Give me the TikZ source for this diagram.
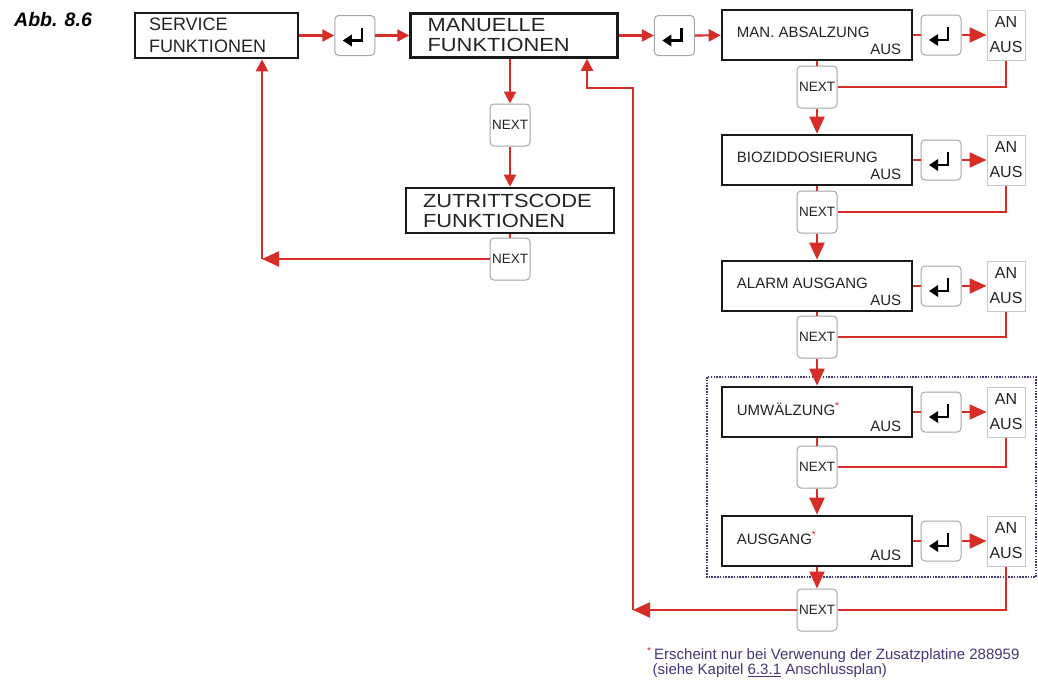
\documentclass[tikz,border=0pt]{standalone}
\usepackage{fontspec}
\setmainfont{Liberation Sans}
\usetikzlibrary{positioning,arrows.meta}

\definecolor{pfeilrot}{RGB}{214,45,38}
\definecolor{tastengrau}{RGB}{165,165,165}
\definecolor{rahmengrau}{RGB}{200,200,200}
\definecolor{notizblau}{RGB}{66,56,120}
\definecolor{schrift}{RGB}{35,35,35}

\newcommand\rotstern{\textsuperscript{\textcolor{pfeilrot}{*}}}

\tikzset{
  menu/.style={draw=black!90, line width=2.6pt, inner ysep=0pt, align=left, text=schrift},
  anzeige/.style={draw=black!90, line width=2.6pt, inner sep=0pt,
    minimum width=190pt, minimum height=50pt},
  anzeigetext/.style={inner sep=0pt, text=schrift, font=\fontsize{15}{17}\selectfont},
  taste/.style={draw=tastengrau, line width=1pt, rounded corners=4pt, inner sep=0pt,
    minimum width=40pt, minimum height=40pt,
    path picture={
      \coordinate (pc) at (path picture bounding box.center);
      \draw[black, line width=2.2pt, sharp corners]
        ([shift={(7pt,8pt)}]pc) -- ([shift={(7pt,-5pt)}]pc) -- ([shift={(-3pt,-5pt)}]pc);
      \fill[black, sharp corners] ([shift={(-12pt,-5pt)}]pc) -- ([shift={(-3pt,1pt)}]pc)
        -- ([shift={(-3pt,-11pt)}]pc) -- cycle;
    }},
  naechste/.style={draw=tastengrau, line width=1pt, rounded corners=4pt, inner sep=0pt,
    minimum width=40pt, minimum height=42pt, text=schrift, font=\fontsize{13.5}{15}\selectfont},
  anaus/.style={draw=rahmengrau, line width=1pt, inner sep=0pt, align=center,
    minimum width=38pt, minimum height=50pt, text=schrift, font=\fontsize{16}{25}\selectfont},
  linie/.style={draw=pfeilrot, line width=2.2pt},
  pfeil/.style={linie, -{Triangle[length=12pt,width=12pt]}},
  pfeilgross/.style={linie, -{Triangle[length=17pt,width=15pt]}},
}

\begin{document}
\begin{tikzpicture}[x=1pt, y=-1pt]
  \useasboundingbox (0,0) rectangle (1038,680);
  % Abbildungsnummer
  \node[anchor=base west, inner sep=0pt, font=\fontsize{19.5}{20}\selectfont\bfseries\itshape]
    (abb) at (14,27) {Abb. 8.6};
  % obere Reihe
  \node[menu, text width=135pt, inner xsep=14pt, minimum height=45pt,
    font=\fontsize{18}{22}\selectfont] (service) at (216.5,35.5) {SERVICE\\FUNKTIONEN};
  \node[taste] (taste0) [right=35pt of service] {};
  \node[menu, text width=173pt, inner xsep=17pt, minimum height=44pt,
    font=\fontsize{19}{20}\selectfont\addfontfeature{FakeStretch=1.15}]
    (manuelle) [right=34pt of taste0] {MANUELLE\\FUNKTIONEN};
  \node[taste] (tasteM) [right=35pt of manuelle] {};
  % Zweig Zutrittscode
  \node[naechste] (nextM) at (510,125) {NEXT};
  \node[menu, text width=174pt, inner xsep=17pt, minimum height=45pt,
    font=\fontsize{19}{20}\selectfont\addfontfeature{FakeStretch=1.15}]
    (zutritt) at (510,210.5) {ZUTRITTSCODE\\FUNKTIONEN};
  \node[naechste] (nextZ) at (510,259) {NEXT};
  % rechte Spalte
  \draw[notizblau, line width=1.8pt, dash pattern=on 1.5pt off 1.3pt]
    (707,377) rectangle (1036,577);
  \foreach \i/\y/\txt in {1/35/{MAN. ABSALZUNG}, 2/160/BIOZIDDOSIERUNG,
      3/286/{ALARM AUSGANG}, 4/412/{UMWÄLZUNG\rotstern}, 5/541/{AUSGANG\rotstern}} {
    \node[anzeige] (box\i) at (817,\y) {};
    \node[anzeigetext, anchor=west] (titel\i) at ([xshift=16pt,yshift=3pt]box\i.west) {\txt};
    \node[anzeigetext, anchor=base east] (aus\i) at ([xshift=-12pt,yshift=7pt]box\i.south east) {AUS};
    \node[taste] (taste\i) at (941,\y) {};
    \node[anaus] (anaus\i) at (1006,\y) {AN\\AUS};
    \draw[linie] (box\i) -- (taste\i);
    \draw[pfeilgross] (taste\i) -- (anaus\i);
  }
  \foreach \i/\y in {1/87, 2/212, 3/337, 4/467, 5/610}
    \node[naechste] (next\i) at (817,\y) {NEXT};
  % Verbindungen
  \draw[pfeil] (service) -- (taste0);
  \draw[pfeil] (taste0) -- (manuelle);
  \draw[pfeil] (manuelle) -- (tasteM);
  \draw[pfeil] (tasteM) -- (box1);
  \draw[pfeil] (manuelle.south -| nextM) -- (nextM);
  \draw[pfeil] (nextM) -- (zutritt);
  \draw[linie] (zutritt.south -| nextZ) -- (nextZ);
  \coordinate (ecke1) at (262,259);
  \draw[pfeilgross] (nextZ.west) -- (ecke1);
  \draw[pfeil] (ecke1) -- (ecke1 |- service.south);
  \foreach \i/\j in {1/2, 2/3, 3/4, 4/5} {
    \draw[linie] (box\i) -- (next\i);
    \draw[pfeilgross] (next\i) -- (box\j);
  }
  \draw[pfeilgross] (box5) -- (next5);
  \foreach \i in {1,...,5}
    \draw[linie] (anaus\i.south) |- (next\i.east);
  \coordinate (ecke2) at (633,610);
  \coordinate (ecke3) at (587,88);
  \draw[pfeilgross] (next5.west) -- (ecke2);
  \draw[pfeil] (ecke2) |- (ecke3) -- (ecke3 |- manuelle.south);
  % Fussnote
  \node[anchor=north west, inner sep=0pt, align=left, text=notizblau,
    font=\fontsize{15}{15}\selectfont] (notiz) at (654,647)
    {\llap{\rotstern\,}Erscheint nur bei Verwenung der Zusatzplatine 288959\\
     \hspace*{-1.5pt}(siehe Kapitel \underline{6.3.1} Anschlussplan)};
\end{tikzpicture}
\end{document}
